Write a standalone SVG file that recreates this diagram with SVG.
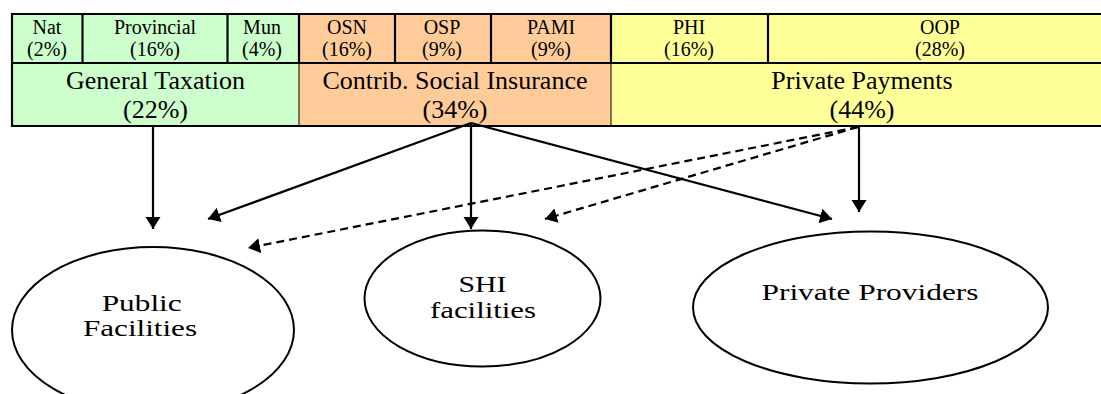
<svg xmlns="http://www.w3.org/2000/svg" width="1101" height="394" viewBox="0 0 1101 394" font-family="'Liberation Serif', 'Times New Roman', 'DejaVu Serif', serif">
<style>
text{font-family:'Liberation Serif','Times New Roman','DejaVu Serif',serif;fill:#000;text-anchor:middle}
.s{font-size:20px}
.b{font-size:26px}
.e{font-size:24px}
.g{fill:#ccffcc}
.o{fill:#ffcc99}
.y{fill:#ffff99}
.bd{stroke:#000;stroke-width:2.2;fill:none}
.thin{stroke:#000;stroke-width:1;fill:none}
.c{stroke:#000;stroke-width:2.2;fill:none}
.d{stroke:#000;stroke-width:2.2;fill:none;stroke-dasharray:8 5}
.el{fill:#fff;stroke:#000;stroke-width:2}
</style>
<defs>
<marker id="ah" markerUnits="userSpaceOnUse" markerWidth="14" markerHeight="16" refX="12" refY="7.5" orient="auto">
<path d="M0,0 L12,7.5 L0,15 z" fill="#000"/>
</marker>
</defs>
<rect x="0" y="0" width="1101" height="394" fill="#fff"/>
<g id="table">
<rect class="g" x="12" y="14" width="287" height="112"/>
<rect class="o" x="299" y="14" width="312" height="112"/>
<rect class="y" x="611" y="14" width="504" height="112"/>
<line class="bd" x1="11" y1="14" x2="1115" y2="14"/>
<line class="bd" x1="11" y1="63" x2="1115" y2="63"/>
<line class="bd" x1="11" y1="126" x2="1115" y2="126"/>
<line class="bd" x1="12" y1="13" x2="12" y2="127"/>
<line class="bd" x1="82.5" y1="14" x2="82.5" y2="63"/>
<line class="bd" x1="227.5" y1="14" x2="227.5" y2="63"/>
<line class="bd" x1="299" y1="14" x2="299" y2="63"/>
<line class="bd" x1="395" y1="14" x2="395" y2="63"/>
<line class="bd" x1="491" y1="14" x2="491" y2="63"/>
<line class="bd" x1="611" y1="14" x2="611" y2="63"/>
<line class="bd" x1="768" y1="14" x2="768" y2="63"/>
<line class="thin" x1="299" y1="63" x2="299" y2="126"/>
<line class="thin" x1="611" y1="63" x2="611" y2="126"/>
</g>
<g id="cell-nat"><text class="s" x="47" y="34">Nat</text><text class="s" x="47" y="56">(2%)</text></g>
<g id="cell-provincial"><text class="s" x="155" y="34">Provincial</text><text class="s" x="155" y="56">(16%)</text></g>
<g id="cell-mun"><text class="s" x="262" y="34">Mun</text><text class="s" x="262" y="56">(4%)</text></g>
<g id="cell-osn"><text class="s" x="347" y="34">OSN</text><text class="s" x="347" y="56">(16%)</text></g>
<g id="cell-osp"><text class="s" x="442" y="34">OSP</text><text class="s" x="442" y="56">(9%)</text></g>
<g id="cell-pami"><text class="s" x="551" y="34">PAMI</text><text class="s" x="551" y="56">(9%)</text></g>
<g id="cell-phi"><text class="s" x="689" y="34">PHI</text><text class="s" x="689" y="56">(16%)</text></g>
<g id="cell-oop"><text class="s" x="940" y="34">OOP</text><text class="s" x="940" y="56">(28%)</text></g>
<g id="general-taxation"><text class="b" x="155.5" y="89">General Taxation</text><text class="b" x="155.5" y="118">(22%)</text></g>
<g id="social-insurance"><text class="b" x="455" y="89">Contrib. Social Insurance</text><text class="b" x="455" y="118">(34%)</text></g>
<g id="private-payments"><text class="b" x="862" y="89">Private Payments</text><text class="b" x="862" y="118">(44%)</text></g>
<g id="connectors">
<line class="c" x1="153" y1="127" x2="153" y2="229" marker-end="url(#ah)"/>
<line class="c" x1="471" y1="123" x2="208" y2="219" marker-end="url(#ah)"/>
<line class="c" x1="471" y1="123" x2="471" y2="229" marker-end="url(#ah)"/>
<line class="c" x1="471" y1="123" x2="832" y2="219" marker-end="url(#ah)"/>
<line class="c" x1="859" y1="127" x2="859" y2="212" marker-end="url(#ah)"/>
<line class="d" x1="858" y1="127" x2="248" y2="248" marker-end="url(#ah)"/>
<line class="d" x1="858" y1="127" x2="545" y2="219" marker-end="url(#ah)"/>
</g>
<g id="public-facilities">
<ellipse class="el" cx="153" cy="330" rx="141" ry="83"/>
<text class="e" x="141.7" y="311" textLength="80" lengthAdjust="spacingAndGlyphs">Public</text>
<text class="e" x="140" y="336" textLength="114" lengthAdjust="spacingAndGlyphs">Facilities</text>
</g>
<g id="shi-facilities">
<ellipse class="el" cx="482.5" cy="298.5" rx="118" ry="68"/>
<text class="e" x="482.5" y="292" textLength="48" lengthAdjust="spacingAndGlyphs">SHI</text>
<text class="e" x="483" y="318" textLength="106" lengthAdjust="spacingAndGlyphs">facilities</text>
</g>
<g id="private-providers">
<ellipse class="el" cx="870.5" cy="307.5" rx="177.5" ry="76"/>
<text class="e" x="870" y="300" textLength="217" lengthAdjust="spacingAndGlyphs">Private Providers</text>
</g>
</svg>
